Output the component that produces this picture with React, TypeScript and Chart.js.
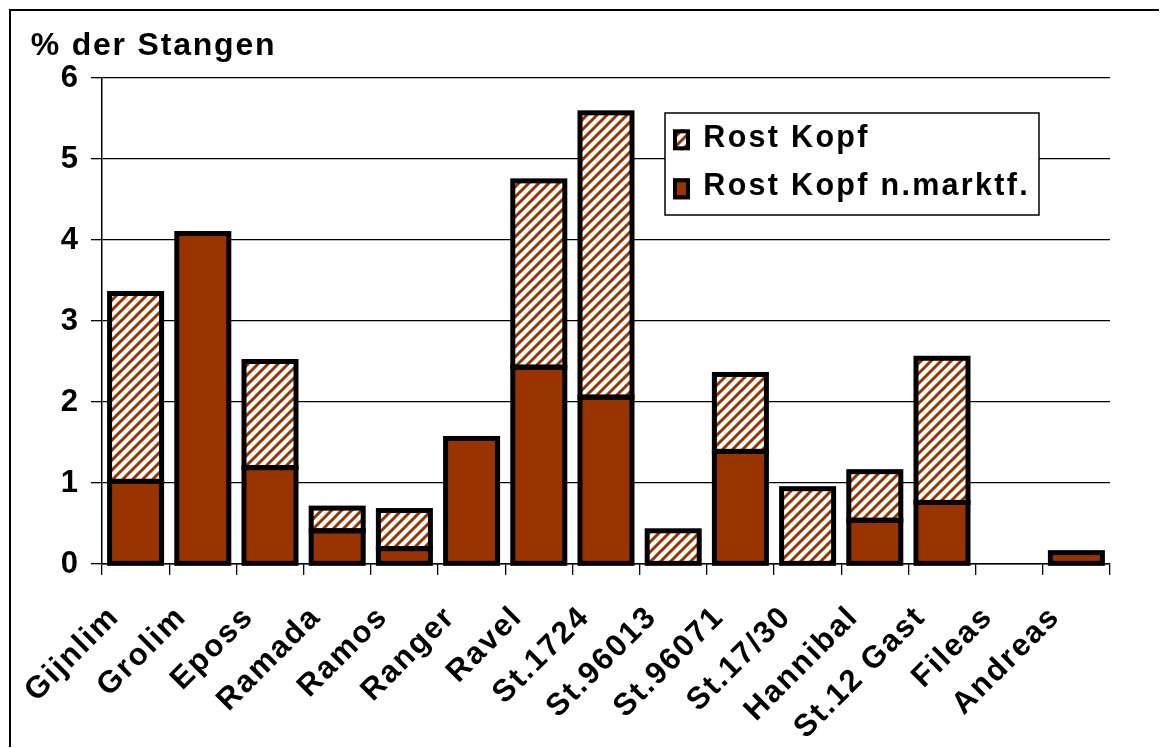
import React, { useEffect, useRef } from 'react';
import { Chart, registerables } from 'chart.js';

Chart.register(...registerables);

const categories = ['Gijnlim', 'Grolim', 'Eposs', 'Ramada', 'Ramos', 'Ranger', 'Ravel', 'St.1724', 'St.96013', 'St.96071', 'St.17/30', 'Hannibal', 'St.12 Gast', 'Fileas', 'Andreas'];
const rostKopfNMarktf = [1.02, 4.08, 1.19, 0.41, 0.19, 1.55, 2.43, 2.06, 0, 1.39, 0, 0.54, 0.76, 0, 0.14];
const rostKopf = [2.32, 0, 1.31, 0.28, 0.47, 0, 2.30, 3.51, 0.41, 0.95, 0.93, 0.60, 1.78, 0, 0];
const yMin = 0;
const yMax = 6;
const yStep = 1;

const titleText = '% der Stangen';
const legendLabels = ['Rost Kopf', 'Rost Kopf n.marktf.'];

const BROWN = '#993300';
const FONT = '"Liberation Sans", Arial, sans-serif';

function makeHatch(): CanvasPattern | string {
  const c = document.createElement('canvas');
  c.width = 10;
  c.height = 10;
  const g = c.getContext('2d');
  if (!g) return BROWN;
  g.fillStyle = '#ffffff';
  g.fillRect(0, 0, 10, 10);
  g.strokeStyle = BROWN;
  g.lineWidth = 3;
  g.beginPath();
  g.moveTo(-5, 5); g.lineTo(5, -5);
  g.moveTo(0, 10); g.lineTo(10, 0);
  g.moveTo(5, 15); g.lineTo(15, 5);
  g.stroke();
  return g.createPattern(c, 'repeat') || BROWN;
}

export default function App() {
  const ref = useRef<HTMLCanvasElement | null>(null);

  useEffect(() => {
    if (!ref.current) return;
    const hatch = makeHatch();

    const spacingPlugin = {
      id: 'spacing',
      beforeLayout(chart: any) { chart.ctx.letterSpacing = '2px'; },
      beforeDraw(chart: any) { chart.ctx.letterSpacing = '2px'; },
    };

    const outlinePlugin = {
      id: 'outline',
      afterDatasetsDraw(chart: any) {
        const ctx = chart.ctx;
        ctx.save();
        ctx.strokeStyle = '#000';
        ctx.lineWidth = 5;
        ctx.lineJoin = 'miter';
        chart.data.datasets.forEach((_: any, di: number) => {
          const meta = chart.getDatasetMeta(di);
          meta.data.forEach((el: any) => {
            const p = el.getProps(['x', 'y', 'base', 'width'], true);
            const top = Math.min(p.y, p.base);
            const h = Math.abs(p.base - p.y);
            if (h < 0.5) return;
            ctx.strokeRect(p.x - p.width / 2, top, p.width, h);
          });
        });
        ctx.restore();
      },
    };

    const decoPlugin = {
      id: 'deco',
      afterDraw(chart: any) {
        const ctx = chart.ctx;
        const ca = chart.chartArea;
        ctx.save();
        // title
        ctx.letterSpacing = '1.8px';
        ctx.fillStyle = '#000';
        ctx.font = `bold 32px ${FONT}`;
        ctx.textAlign = 'left';
        ctx.textBaseline = 'alphabetic';
        ctx.fillText(titleText, ca.left - 71.3, ca.top - 22.7);

        // legend
        const bx = ca.right - 445;
        const by = ca.top + 35;
        const bw = 374;
        const bh = 102;
        ctx.fillStyle = '#fff';
        ctx.fillRect(bx, by, bw, bh);
        ctx.strokeStyle = '#000';
        ctx.lineWidth = 1.5;
        ctx.strokeRect(bx, by, bw, bh);

        const rows = [
          { label: legendLabels[0], fill: hatch, top: 16.3, base: 33.7 },
          { label: legendLabels[1], fill: BROWN, top: 65.3, base: 82 },
        ];
        ctx.letterSpacing = '2.3px';
        ctx.font = `bold 30.5px ${FONT}`;
        rows.forEach((r) => {
          const mx = bx + 8;
          const my = by + r.top;
          ctx.fillStyle = r.fill as any;
          ctx.fillRect(mx, my, 17, 21);
          ctx.strokeStyle = '#000';
          ctx.lineWidth = 4;
          ctx.strokeRect(mx + 2, my + 2, 13, 17);
          ctx.fillStyle = '#000';
          ctx.fillText(r.label, bx + 38.3, by + r.base);
        });
        ctx.restore();
      },
    };

    const chart = new Chart(ref.current, {
      type: 'bar',
      data: {
        labels: categories,
        datasets: [
          {
            label: legendLabels[1],
            data: rostKopfNMarktf,
            backgroundColor: BROWN,
            borderWidth: 0,
            barPercentage: 0.774,
            categoryPercentage: 1,
          },
          {
            label: legendLabels[0],
            data: rostKopf,
            backgroundColor: hatch as any,
            borderWidth: 0,
            barPercentage: 0.774,
            categoryPercentage: 1,
          },
        ],
      },
      options: {
        animation: false,
        responsive: false,
        devicePixelRatio: 1,
        layout: { padding: { left: 0, right: 49, top: 67, bottom: 0 } },
        plugins: {
          legend: { display: false },
          tooltip: { enabled: false },
          title: { display: false },
        },
        scales: {
          x: {
            stacked: true,
            afterFit(scale: any) { scale.height = 183; },
            grid: {
              display: true,
              drawOnChartArea: false,
              drawTicks: true,
              tickLength: 11,
              color: '#000',
              lineWidth: 1.3,
              offset: true,
            },
            border: { display: true, color: '#000', width: 1.5 },
            ticks: {
              autoSkip: false,
              maxRotation: 45,
              minRotation: 45,
              padding: 24,
              labelOffset: -21,
              color: '#000',
              font: { family: FONT, size: 31, weight: 'bold' },
            },
          },
          y: {
            stacked: true,
            min: yMin,
            max: yMax,
            afterFit(scale: any) { scale.width = 91; },
            grid: {
              color: '#000',
              lineWidth: 1.3,
              tickLength: 11,
              drawTicks: true,
            },
            border: { display: true, color: '#000', width: 1.5 },
            ticks: {
              stepSize: yStep,
              padding: 11,
              color: '#000',
              font: { family: FONT, size: 31, weight: 'bold' },
            },
          },
        },
      },
      plugins: [spacingPlugin, outlinePlugin, decoPlugin],
    } as any);

    return () => chart.destroy();
  }, []);

  return (
    <div
      style={{
        position: 'absolute',
        left: 9,
        top: 9,
        width: 1150,
        height: 738,
        boxSizing: 'border-box',
        borderTop: '2px solid #000',
        borderLeft: '2px solid #000',
        background: '#fff',
        overflow: 'hidden',
      }}
    >
      <canvas ref={ref} width={1148} height={736} style={{ display: 'block', width: 1148, height: 736 }} />
    </div>
  );
}
